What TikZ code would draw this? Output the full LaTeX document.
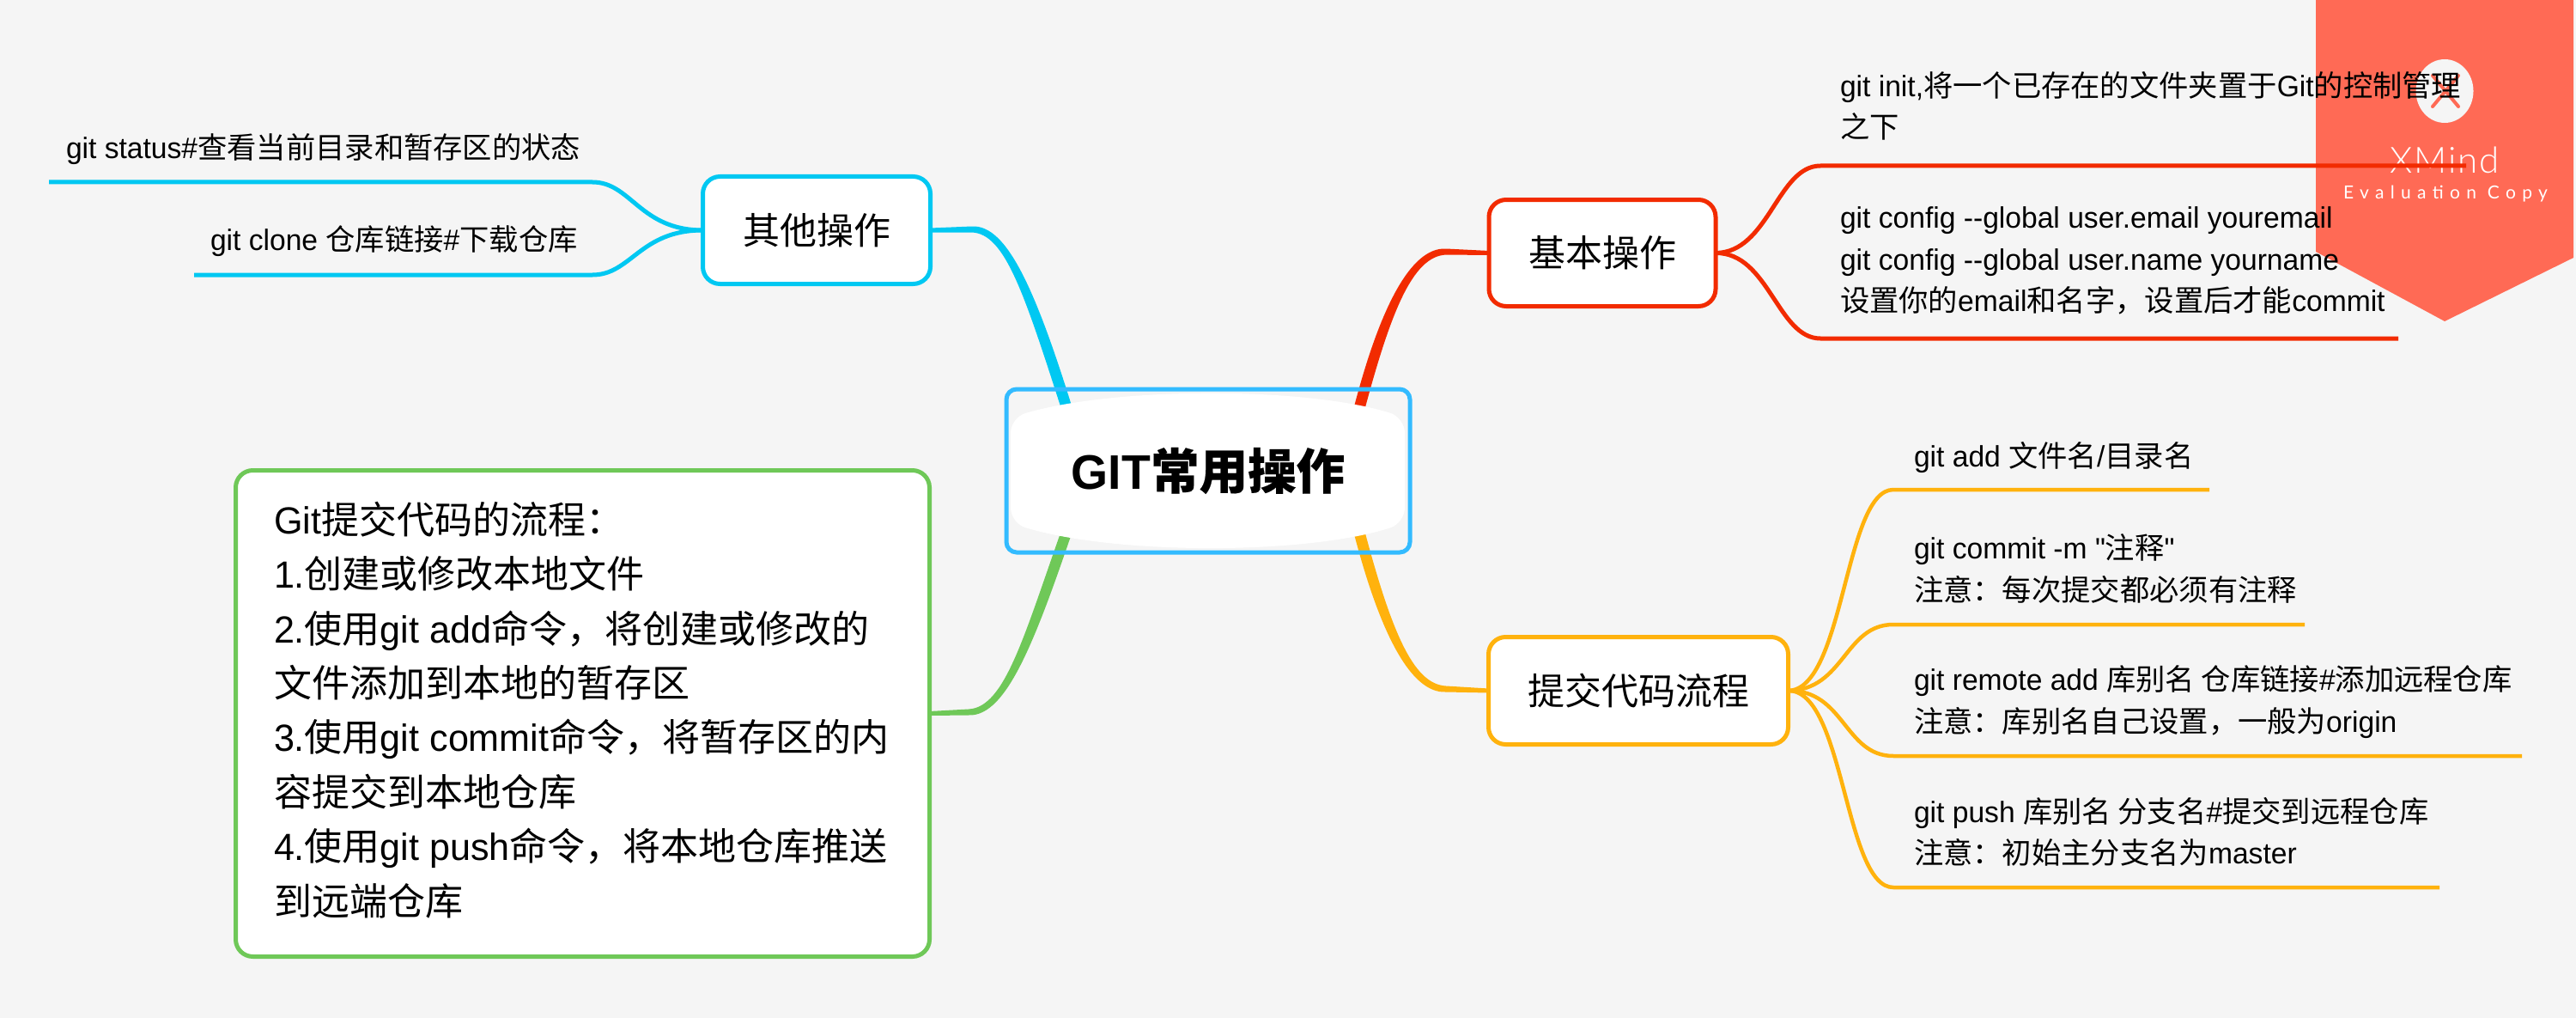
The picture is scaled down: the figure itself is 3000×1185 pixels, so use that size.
\documentclass[tikz,border=0pt]{standalone}
\usepackage{fontspec}
\usetikzlibrary{calc}
\setmainfont{Liberation Sans}[FakeStretch=0.98,Ligatures=TeXOff]
\newfontfamily\cjk{Noto Sans CJK SC}
\newfontfamily\cjkm{Noto Sans CJK SC}[FakeBold=0.25]
\newfontfamily\wm{Lato Light}[LetterSpace=4]
\newfontfamily\wmb{Lato}[LetterSpace=35]
\newcommand\zh[1]{{\cjk #1}}
\definecolor{bgc}{HTML}{F5F5F5}
\definecolor{redc}{HTML}{F22B00}
\definecolor{cyanc}{HTML}{00C8F2}
\definecolor{orangec}{HTML}{FFB20D}
\definecolor{greenc}{HTML}{6FC858}
\definecolor{bluec}{HTML}{33BBFF}
\definecolor{wmc}{HTML}{FF6A55}
\tikzset{
  topicbox/.style={draw,line width=5pt,fill=white,rounded corners=20pt,inner sep=0pt,outer sep=0pt,align=center,font=\fontsize{43}{50}\selectfont},
  leaf/.style={inner sep=0pt,outer sep=0pt,anchor=north west,align=left,text=black,font=\fontsize{34.3}{48.5}\selectfont},
  subline/.style={line width=5pt,line cap=butt,line join=round},
  orangeline/.style={subline,line width=4.5pt,orangec},
}
% colour, start, c1, c2, knot, end, sign
\newcommand\taper[7]{%
  \fill[#1] ($(#2)+(-6.5*#7,0)$) .. controls ($(#3)+(-7*#7,-2)$) and ($(#4)+(-1*#7,-5.5)$) .. ($(#5)+(0,-3.5)$)
    -- ($(#6)+(0,-2.5)$) -- ($(#6)+(0,2.5)$) -- ($(#5)+(0,3.5)$) .. controls ($(#4)+(1*#7,5.5)$) and ($(#3)+(7*#7,2)$) .. ($(#2)+(6.5*#7,0)$) -- cycle;}
\begin{document}
\begin{tikzpicture}[x=1pt,y=-1pt]
\useasboundingbox (0,0) rectangle (3000,1185);
\fill[bgc] (0,0) rectangle (3000,1185);
% watermark
\fill[wmc] (2697,0) -- (2997,0) -- (2997,300) -- (2847,374) -- (2697,293) -- cycle;
\fill[bgc] (2847,106) ellipse (33.5 and 37);
\draw[wmc,line width=4pt,line cap=round] (2833,88) -- (2863,124) (2863,88) -- (2833,124);
\node[inner sep=0pt,text=white,font=\wm\fontsize{42}{42}\selectfont] (wma) at (2847,186) {XMind};
\node[inner sep=0pt,text=white,font=\wmb\fontsize{21}{21}\selectfont] (wmb) at (2848,226) {Evaluation Copy};
% coordinates
\coordinate (r0) at (1578,495); \coordinate (c0) at (1247,490);
\coordinate (g0) at (1247,605); \coordinate (o0) at (1578,600);
\coordinate (ur1) at (2872,193); \coordinate (ur2) at (2793,394);
\coordinate (uc1) at (57,212); \coordinate (uc2) at (226,320);
\coordinate (uo1) at (2573,570); \coordinate (uo2) at (2684,727);
\coordinate (uo3) at (2937,880); \coordinate (uo4) at (2841,1033);
% topic placement
\path (1866,294.5) node[topicbox,draw=none,fill=none,minimum width=264,minimum height=124] (jb) {};
\path (951,268) node[topicbox,draw=none,fill=none,minimum width=265,minimum height=125] (qt) {};
\path (1908,804) node[topicbox,draw=none,fill=none,minimum width=349,minimum height=125] (tj) {};
\path (678.5,830.5) node[topicbox,draw=none,fill=none,minimum width=808,minimum height=566] (lc) {};
% branches
\taper{redc}{r0}{1612,360}{1644,293}{1684,293}{jb.west}{1}
\taper{cyanc}{c0}{1200,340}{1172,267}{1132,267}{qt.east}{-1}
\taper{greenc}{g0}{1200,740}{1172,829}{1128,829}{lc.east}{1}
\taper{orangec}{o0}{1612,735}{1644,802}{1684,802}{tj.west}{-1}
% sub branches
\draw[subline,redc] (jb.east) .. controls (2060,294) and (2070,193) .. (2120,193) -- (ur1);
\draw[subline,redc] (jb.east) .. controls (2060,294) and (2070,394) .. (2120,394) -- (ur2);
\draw[subline,cyanc] (qt.west) .. controls (745,268) and (735,212) .. (690,212) -- (uc1);
\draw[subline,cyanc] (qt.west) .. controls (745,268) and (735,320) .. (690,320) -- (uc2);
\draw[orangeline] (tj.east) .. controls (2148,803) and (2148,570) .. (2205,570) -- (uo1);
\draw[orangeline] (tj.east) .. controls (2148,803) and (2148,727) .. (2205,727) -- (uo2);
\draw[orangeline] (tj.east) .. controls (2148,803) and (2148,880) .. (2205,880) -- (uo3);
\draw[orangeline] (tj.east) .. controls (2148,803) and (2148,1033) .. (2205,1033) -- (uo4);
% topics
\node[topicbox,draw=redc,minimum width=264,minimum height=124] (jbv) at (jb) {\zh{基本操作}};
\node[topicbox,draw=cyanc,minimum width=265,minimum height=125] (qtv) at (qt) {\zh{其他操作}};
\node[topicbox,draw=orangec,minimum width=349,minimum height=125] (tjv) at (tj) {\zh{提交代码流程}};
\node[topicbox,draw=greenc,minimum width=808,minimum height=566] (lcv) at (lc) {};
\node[leaf,font=\fontsize{44}{63.4}\selectfont] (lct) at (319,584) {Git\zh{提交代码的流程：}\\1.\zh{创建或修改本地文件}\\2.\zh{使用}git add\zh{命令，将创建或修改的}\\\zh{文件添加到本地的暂存区}\\3.\zh{使用}git commit\zh{命令，将暂存区的内}\\\zh{容提交到本地仓库}\\4.\zh{使用}git push\zh{命令，将本地仓库推送}\\\zh{到远端仓库}};
% central
\fill[white,rounded corners=18pt] (1177,486) .. controls (1300,450) and (1520,450) .. (1636,486) -- (1636,609) .. controls (1520,646) and (1300,646) .. (1177,609) -- cycle;
\node[draw=bluec,line width=5pt,rounded corners=12pt,inner sep=0pt,outer sep=0pt,minimum width=470,minimum height=190,font=\bfseries\fontsize{56.5}{60}\selectfont] (central) at (1407,548) {GIT{\cjkm 常用操作}};
% leaves
\node[leaf] (a1) at (2143,83) {git init,\zh{将一个已存在的文件夹置于}Git\zh{的控制管理}\\\zh{之下}};
\node[leaf] (a2) at (2143,241) {git config --global user.email youremail\\git config --global user.name yourname\\\zh{设置你的}email\zh{和名字，设置后才能}commit};
\node[leaf] (b1) at (2229,514) {git add \zh{文件名}/\zh{目录名}};
\node[leaf] (b2) at (2229,622) {git commit -m "\zh{注释}"\\\zh{注意：每次提交都必须有注释}};
\node[leaf] (b3) at (2229,775) {git remote add \zh{库别名 仓库链接}\#\zh{添加远程仓库}\\\zh{注意：库别名自己设置，一般为}origin};
\node[leaf] (b4) at (2229,928) {git push \zh{库别名 分支名}\#\zh{提交到远程仓库}\\\zh{注意：初始主分支名为}master};
\node[leaf] (c1) at (77,156) {git status\#\zh{查看当前目录和暂存区的状态}};
\node[leaf] (c2) at (245,263) {git clone \zh{仓库链接}\#\zh{下载仓库}};
\end{tikzpicture}
\end{document}
